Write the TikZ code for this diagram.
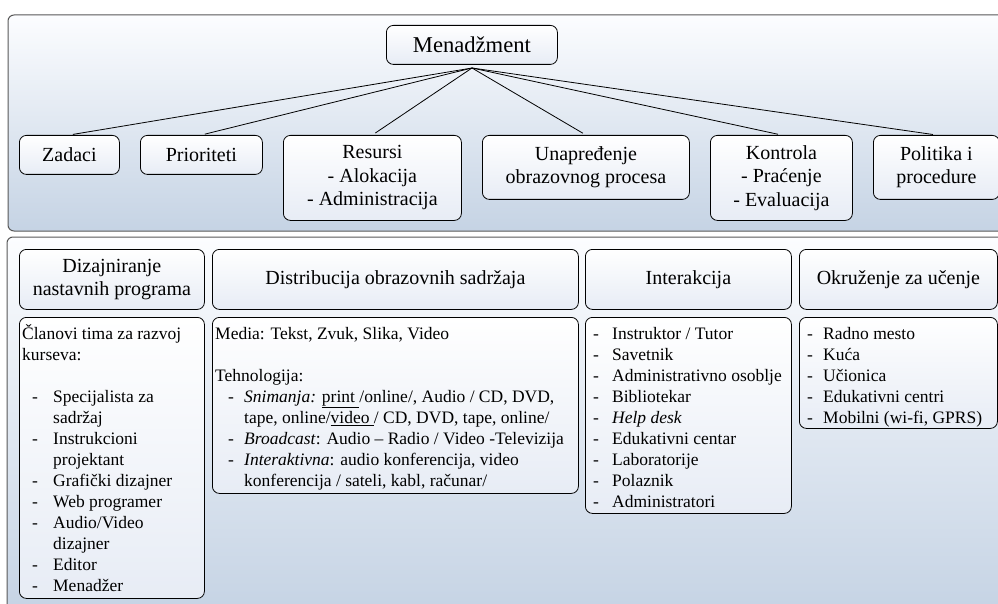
\documentclass[tikz,border=0pt]{standalone}
\usepackage{fontspec}
\setmainfont{Liberation Serif}
\definecolor{panelTop}{RGB}{252,253,255}
\definecolor{panelBot}{RGB}{197,211,228}
\definecolor{panelLine}{RGB}{88,88,88}
\definecolor{boxBot}{RGB}{231,236,245}
% strut that fixes the height of the first line of a text block
\newcommand\fl{\rule{0pt}{17pt}}
% list item: dash shifted by #1, item text starting at #2
\newcommand\dli[3]{\makebox[#2][l]{\hspace*{#1}-}#3}
% continuation line of a list item
\newcommand\cli[2]{\hspace*{#1}#2}
\begin{document}
\begin{tikzpicture}[x=1pt,y=-1pt,
  panel/.style={draw=panelLine, line width=1pt, rounded corners=6pt,
    top color=panelTop, bottom color=panelBot},
  bx/.style={draw=black, line width=0.8pt, rounded corners=7pt,
    top color=white, bottom color=boxBot, inner sep=0pt,
    anchor=north west, align=center, font=\fontsize{20}{23.5}\selectfont},
  txt/.style={inner sep=0pt, anchor=north west, align=left,
    font=\fontsize{17.5}{21}\selectfont},
  conn/.style={draw=black, line width=0.8pt, shorten >=3.5pt}]

\fill[white] (0,0) rectangle (998,604);
\useasboundingbox (0,0) rectangle (998,604);

% two background panels
\draw[panel] (8,15) rectangle (1012,231);
\draw[panel] (7,237) rectangle (1012,614);

% management level
\node[bx, minimum width=171pt, minimum height=39pt,
  font=\fontsize{22.6}{27}\selectfont] (m) at (386,25) {Menadžment};
\node[bx, minimum width=100pt, minimum height=39pt] (zad) at (19,135) {Zadaci};
\node[bx, minimum width=122pt, minimum height=39pt] (pri) at (140,135) {Prioriteti};
\node[bx, minimum width=178pt, minimum height=85pt] (res) at (283,135)
  {Resursi\\- Alokacija\\- Administracija};
\node[bx, minimum width=207pt, minimum height=64pt] (una) at (482,135)
  {Unapređenje\\obrazovnog procesa};
\node[bx, minimum width=142pt, minimum height=85pt] (kon) at (710,135)
  {Kontrola\\- Praćenje\\- Evaluacija};
\node[bx, minimum width=126pt, minimum height=64pt] (pol) at (873,135)
  {Politika i\\procedure};

\coordinate (hub) at (472,68);
\foreach \n in {zad,pri,res,una,kon,pol}
  \draw[conn] (hub) -- (\n.north);

% headings of the lower level
\node[bx, minimum width=185pt, minimum height=60pt] (h1) at (19,249)
  {Dizajniranje\\nastavnih programa};
\node[bx, minimum width=366pt, minimum height=60pt] (h2) at (212,249)
  {Distribucija obrazovnih sadržaja};
\node[bx, minimum width=206pt, minimum height=60pt] (h3) at (585,249)
  {Interakcija};
\node[bx, minimum width=198pt, minimum height=60pt] (h4) at (799,249)
  {Okruženje za učenje};

% content boxes
\node[bx, minimum width=185pt, minimum height=281pt] (c1) at (19,317) {};
\node[bx, minimum width=366pt, minimum height=176pt] (c2) at (212,317) {};
\node[bx, minimum width=206pt, minimum height=196pt] (c3) at (585,317) {};
\node[bx, minimum width=198pt, minimum height=111pt] (c4) at (799,317) {};

\node[txt] (t1) at (22,322) {\fl Članovi tima za razvoj\\
  kurseva:\\[21pt]
  \dli{10pt}{31pt}{Specijalista za}\\
  \cli{31pt}{sadržaj}\\
  \dli{10pt}{31pt}{Instrukcioni}\\
  \cli{31pt}{projektant}\\
  \dli{10pt}{31pt}{Grafički dizajner}\\
  \dli{10pt}{31pt}{Web programer}\\
  \dli{10pt}{31pt}{Audio/Video}\\
  \cli{31pt}{dizajner}\\
  \dli{10pt}{31pt}{Editor}\\
  \dli{10pt}{31pt}{Menadžer}};

\node[txt] (t2) at (215,322) {\fl Media: Tekst, Zvuk, Slika, Video\\[21pt]
  Tehnologija:\\
  \dli{13pt}{29pt}{\textit{Snimanja:} \underline{print }/online/, Audio / CD, DVD,}\\
  \cli{29pt}{tape, online/\underline{video }/ CD, DVD, tape, online/}\\
  \dli{13pt}{29pt}{\textit{Broadcast}: Audio – Radio / Video -Televizija}\\
  \dli{13pt}{29pt}{\textit{Interaktivna}: audio konferencija, video}\\
  \cli{29pt}{konferencija / sateli, kabl, računar/}};

\node[txt] (t3) at (593,322) {\fl\dli{0pt}{19pt}{Instruktor / Tutor}\\
  \dli{0pt}{19pt}{Savetnik}\\
  \dli{0pt}{19pt}{Administrativno osoblje}\\
  \dli{0pt}{19pt}{Bibliotekar}\\
  \dli{0pt}{19pt}{\textit{Help desk}}\\
  \dli{0pt}{19pt}{Edukativni centar}\\
  \dli{0pt}{19pt}{Laboratorije}\\
  \dli{0pt}{19pt}{Polaznik}\\
  \dli{0pt}{19pt}{Administratori}};

\node[txt] (t4) at (807,322) {\fl\dli{0pt}{16pt}{Radno mesto}\\
  \dli{0pt}{16pt}{Kuća}\\
  \dli{0pt}{16pt}{Učionica}\\
  \dli{0pt}{16pt}{Edukativni centri}\\
  \dli{0pt}{16pt}{Mobilni (wi-fi, GPRS)}};
\end{tikzpicture}
\end{document}
